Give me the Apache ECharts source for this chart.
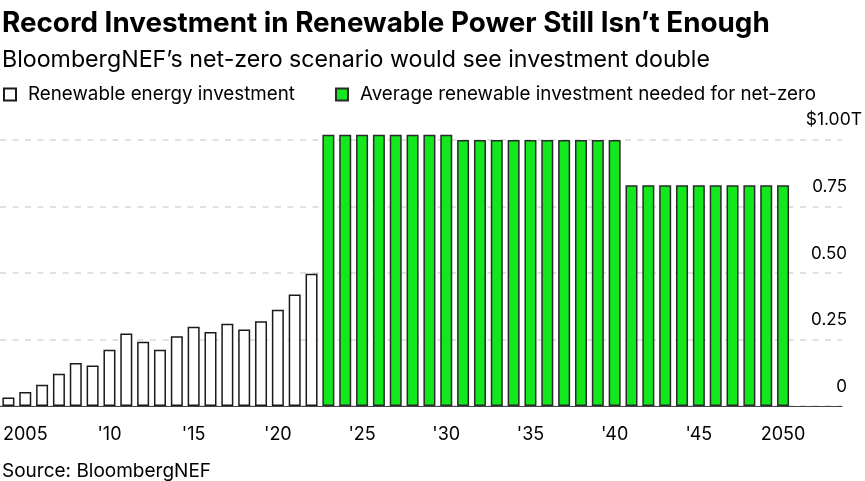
<!DOCTYPE html>
<html>
<head>
<meta charset="utf-8">
<script src="https://cdn.jsdelivr.net/npm/echarts@6/dist/echarts.min.js"></script>
<style>
html,body{margin:0;padding:0;background:#fff;}
#chart{width:865px;height:481px;}
</style>
</head>
<body>
<div id="chart"></div>
<script>
// Categories (years); axis runs a little past 2050 as in the reference
var years = [];
for (var y = 2004; y <= 2053; y++) years.push(String(y));

// Renewable energy investment, $T (2004-2022)
var renewableYears = ['2004','2005','2006','2007','2008','2009','2010','2011','2012','2013','2014','2015','2016','2017','2018','2019','2020','2021','2022'];
var renewableValues = [0.032,0.053,0.080,0.121,0.162,0.152,0.211,0.273,0.242,0.211,0.262,0.298,0.278,0.309,0.288,0.319,0.362,0.419,0.497];

// Average renewable investment needed for net-zero, $T (2023-2050)
var netZeroYears = ['2023','2024','2025','2026','2027','2028','2029','2030',
  '2031','2032','2033','2034','2035','2036','2037','2038','2039','2040',
  '2041','2042','2043','2044','2045','2046','2047','2048','2049','2050'];
var netZeroValues = [1.02,1.02,1.02,1.02,1.02,1.02,1.02,1.02,
  1.00,1.00,1.00,1.00,1.00,1.00,1.00,1.00,1.00,1.00,
  0.83,0.83,0.83,0.83,0.83,0.83,0.83,0.83,0.83,0.83];

var yTicks = [0, 0.25, 0.5, 0.75, 1.0];
var yTickLabels = ['0', '0.25', '0.50', '0.75', '$1.00T'];

function toSeries(cats, vals) {
  var map = {};
  cats.forEach(function (c, i) { map[c] = vals[i]; });
  return years.map(function (c) { return map[c] === undefined ? '-' : map[c]; });
}

function isTickYear(idx, val) {
  var yr = +val;
  return yr % 5 === 0 && yr <= 2050;
}

var FONT = 'Inter';
var chart = echarts.init(document.getElementById('chart'), null, {renderer: 'canvas'});
chart.setOption({
  animation: false,
  backgroundColor: '#fff',
  title: [{
    text: 'Record Investment in Renewable Power Still Isn\u2019t Enough',
    left: 0, top: 10,
    padding: [0, 0, 0, 2],
    textStyle: {fontFamily: FONT, fontWeight: 'bold', fontSize: 27.8, color: '#000'}
  }, {
    text: 'BloombergNEF\u2019s net-zero scenario would see investment double',
    left: 0, top: 49,
    padding: [0, 0, 0, 2],
    textStyle: {fontFamily: FONT, fontWeight: 'normal', fontSize: 23.2, color: '#000'}
  }, {
    text: 'Source: BloombergNEF',
    left: 0, top: 462,
    padding: [0, 0, 0, 2],
    textStyle: {fontFamily: FONT, fontWeight: 'normal', fontSize: 19, color: '#000'}
  }],
  legend: {
    left: 3, top: 85,
    padding: 0,
    itemWidth: 12, itemHeight: 12,
    itemGap: 40,
    icon: 'rect',
    textStyle: {fontFamily: FONT, fontSize: 18.8, color: '#000', padding: [0, 0, 0, 7]},
    data: ['Renewable energy investment', 'Average renewable investment needed for net-zero']
  },
  grid: {left: 0, right: 20, top: 140, bottom: 75, containLabel: false},
  xAxis: {
    type: 'category',
    data: years,
    axisLine: {lineStyle: {color: '#444', width: 1}},
    axisTick: {alignWithLabel: true, length: 7, interval: isTickYear, lineStyle: {color: '#444'}},
    axisLabel: {
      interval: isTickYear,
      margin: 20,
      fontFamily: FONT, fontSize: 18, color: '#000',
      formatter: function (v) {
        var yr = +v;
        if (yr === 2005 || yr === 2050) return v;
        return "'" + v.slice(2);
      }
    }
  },
  yAxis: {
    type: 'value',
    position: 'right',
    min: 0, max: 1, interval: 0.25,
    axisLine: {show: false},
    axisTick: {show: false},
    splitLine: {lineStyle: {color: '#d8d8d8', width: 1.5, type: [6, 6.5]}},
    axisLabel: {
      margin: 20,
      align: 'right',
      verticalAlign: 'bottom',
      fontFamily: FONT, fontSize: 17, color: '#000',
      formatter: function (v) {
        var i = yTicks.indexOf(v);
        var s = i >= 0 ? yTickLabels[i] : String(v);
        if (v === 1) return '{t|' + s + '}';
        return '{n|' + s + '}';
      },
      rich: {
        n: {fontFamily: FONT, fontSize: 17, color: '#000', padding: [0, 15, 11, 0]},
        t: {fontFamily: FONT, fontSize: 17.5, color: '#000', padding: [0, 0, 11, 0]}
      }
    }
  },
  series: [{
    name: 'Renewable energy investment',
    type: 'bar',
    stack: 'all',
    clip: false,
    barWidth: 12,
    data: toSeries(renewableYears, renewableValues),
    itemStyle: {color: '#fff', borderColor: '#1a1a1a', borderWidth: 1.5}
  }, {
    name: 'Average renewable investment needed for net-zero',
    type: 'bar',
    stack: 'all',
    clip: false,
    barWidth: 12,
    data: toSeries(netZeroYears, netZeroValues),
    itemStyle: {color: '#13E81F', borderColor: '#2a2a2a', borderWidth: 1.5}
  }]
});
</script>
</body>
</html>
